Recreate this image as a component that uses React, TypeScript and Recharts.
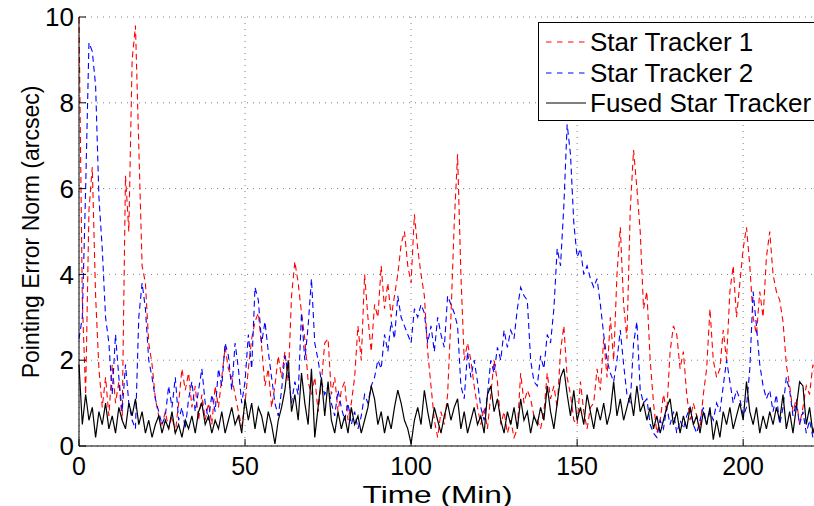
import React from 'react';
import { LineChart, Line, XAxis, YAxis, CartesianGrid } from 'recharts';

// Samples are one minute apart, starting at t = 0 min
const st1 = [
  10, 3.4, 1.2, 5.5, 6.5, 3.5, 1.8, 0.9, 1.6, 0.7,
  1.9, 1.0, 1.5, 0.6, 6.3, 5.0, 9.0, 9.8, 7.0, 4.2,
  3.8, 2.4, 1.9, 1.1, 0.7, 0.5, 0.8, 0.4, 0.7, 0.3,
  1.0, 1.8, 1.3, 1.7, 0.9, 1.4, 0.6, 1.2, 0.6, 1.0,
  0.5, 1.4, 0.9, 1.6, 2.3, 1.8, 1.6, 1.2, 0.8, 0.45,
  1.0, 1.8, 2.5, 2.9, 3.1, 2.3, 1.4, 1.8, 0.9, 1.4,
  2.1, 1.6, 2.2, 1.5, 3.5, 4.3, 3.8, 3.1, 2.5, 1.5,
  1.2, 1.6, 0.8, 1.5, 2.4, 2.5, 1.2, 1.6, 0.8, 1.3,
  1.5, 0.6, 1.0, 1.6, 2.8, 2.0, 4.0, 3.0, 2.2, 3.3,
  3.0, 4.2, 3.2, 3.8, 3.0, 3.5, 4.0, 4.7, 5.0, 4.2,
  3.8, 5.4, 4.6, 4.0, 3.5, 2.2, 1.4, 0.6, 0.2, 0.8,
  0.5, 1.2, 3.0, 5.2, 6.8, 4.0, 2.0, 2.4, 2.0, 1.4,
  0.9, 0.5, 0.9, 0.4, 1.2, 2.0, 1.5, 0.5, 0.8, 0.3,
  0.6, 0.2, 0.4, 1.7, 1.0, 1.3, 1.1, 0.7, 0.6, 0.4,
  0.8, 1.7, 1.1, 1.4, 0.9, 2.2, 2.8, 1.6, 1.2, 0.6,
  0.5, 1.5, 0.8, 0.4, 0.9, 1.0, 1.8, 1.3, 2.5, 1.6,
  3.0, 2.0, 4.0, 5.1, 3.3, 2.5, 5.5, 6.9, 6.0, 5.0,
  3.2, 3.6, 2.0, 1.0, 0.3, 0.6, 1.2, 0.8, 2.2, 2.8,
  2.6, 1.8, 2.2, 1.2, 0.6, 1.0, 0.7, 0.4, 1.2, 1.8,
  3.2, 2.0, 1.6, 1.8, 2.7, 2.0, 3.6, 4.2, 3.0, 3.8,
  4.6, 5.1, 4.2, 3.0, 2.6, 3.6, 3.0, 4.4, 5.0, 4.0,
  3.6, 3.4, 2.9, 1.9, 1.4, 0.8, 1.1, 0.5, 0.9, 1.4,
  1.2, 1.9, 1.5,
];

const st2 = [
  2.5, 3.0, 6.0, 9.4, 9.2, 8.4, 5.8, 4.6, 3.0, 2.4,
  1.2, 2.6, 1.6, 0.8, 1.9, 1.0, 0.6, 0.4, 3.0, 3.8,
  3.2, 2.0, 1.6, 1.1, 0.8, 0.5, 0.7, 1.4, 0.9, 1.6,
  0.6, 0.9, 0.4, 1.1, 1.5, 0.8, 1.3, 1.8, 1.0, 0.6,
  1.2, 0.8, 1.8, 1.4, 2.4, 2.1, 1.3, 2.4, 1.8, 1.0,
  1.5, 2.6, 1.8, 3.7, 3.4, 2.4, 2.9, 2.2, 1.6, 1.0,
  0.7, 1.3, 2.1, 1.7, 1.0, 1.5, 1.2, 3.1, 2.0, 2.8,
  3.9, 2.4, 2.0, 1.5, 1.2, 1.4, 1.0, 0.7, 1.3, 0.9,
  0.6, 1.0, 0.5, 0.8, 0.4, 0.7, 1.2, 1.0, 1.4, 1.6,
  2.0, 1.8, 2.6, 2.2, 2.9, 2.5, 3.5, 3.0, 2.8, 2.6,
  2.4, 3.2, 3.0, 3.3, 3.1, 2.4, 2.8, 2.2, 3.0, 2.6,
  2.3, 3.5, 3.3, 3.1, 2.8, 1.4, 1.1, 2.2, 1.6, 2.0,
  1.5, 0.9, 0.6, 1.2, 2.0, 1.7, 2.3, 2.0, 2.7, 2.3,
  2.7, 2.5, 3.2, 3.7, 3.5, 3.4, 2.0, 1.5, 1.4, 2.1,
  1.8, 2.6, 2.4, 3.2, 4.6, 4.2, 5.6, 7.5, 6.8, 5.2,
  4.4, 4.6, 4.0, 4.2, 3.9, 3.7, 3.9, 3.3, 2.6, 2.0,
  1.7, 1.5, 2.0, 2.7, 1.9, 1.2, 1.0, 2.4, 2.9, 1.3,
  1.0, 1.1, 0.5, 0.3, 0.2, 0.6, 0.4, 0.9, 0.5, 0.8,
  0.3, 0.6, 0.4, 0.7, 0.9, 0.5, 0.3, 0.6, 0.9, 0.5,
  0.8, 0.6, 1.0, 0.8, 1.4, 2.0, 1.5, 1.0, 1.3, 1.1,
  0.7, 0.9, 1.8, 3.6, 2.8, 1.9, 1.4, 1.1, 1.3, 0.8,
  1.2, 0.5, 0.9, 1.6, 1.3, 0.7, 1.0, 0.5, 0.8, 0.3,
  0.6, 0.2, 0.5,
];

const fused = [
  1.9, 0.5, 1.2, 0.6, 0.9, 0.2, 0.8, 0.5, 1.0, 0.4,
  0.7, 0.3, 0.9, 0.6, 0.4, 1.0, 0.7, 1.1, 0.5, 0.8,
  0.3, 0.6, 0.2, 0.5, 0.7, 0.3, 0.6, 0.4, 0.8, 0.3,
  0.5, 0.2, 0.6, 0.4, 0.7, 0.3, 0.8, 1.0, 0.5, 0.7,
  0.3, 0.6, 0.4, 0.8, 0.3, 0.6, 0.9, 0.5, 0.7, 0.3,
  1.1, 0.6, 1.0, 0.4, 0.9, 0.7, 0.3, 0.8, 0.5, 0.05,
  0.6, 0.9, 1.3, 2.0, 0.8, 1.2, 0.6, 1.7, 1.0, 0.5,
  1.8, 0.2, 0.9, 1.6, 0.7, 1.5, 0.6, 0.3, 0.8, 0.4,
  0.7, 0.3, 0.9, 0.5, 0.7, 0.3, 0.6, 0.9, 1.4, 1.1,
  0.5, 0.8, 0.3, 0.7, 0.4, 0.9, 1.3, 1.0, 0.6, 0.4,
  0.05, 0.6, 0.9, 0.5, 1.3, 0.8, 0.4, 0.9, 0.6, 0.3,
  0.7, 1.0, 0.6, 0.9, 1.1, 0.4, 0.8, 0.3, 0.6, 0.9,
  0.5, 0.7, 0.3, 1.2, 1.4, 0.8, 1.1, 0.6, 0.3, 0.8,
  0.5, 0.9, 0.4, 1.1, 0.6, 0.8, 0.3, 0.7, 0.5, 0.9,
  0.6, 1.4, 0.8, 0.4, 1.0, 1.6, 1.8, 1.2, 0.7, 1.3,
  0.6, 0.9, 0.5, 1.2, 0.8, 0.4, 0.9, 0.6, 1.0, 0.5,
  0.8, 1.5, 0.7, 1.1, 0.6, 0.9, 1.2, 0.7, 1.4, 0.8,
  1.0, 0.6, 0.9, 0.4, 0.7, 0.3, 0.6, 0.9, 1.1, 0.5,
  0.8, 0.3, 0.7, 0.4, 0.9, 0.5, 0.7, 0.3, 0.8, 0.5,
  0.9, 0.15, 0.6, 0.2, 0.8, 0.5, 0.9, 0.4, 0.7, 1.0,
  0.6, 1.5, 0.8, 0.5, 0.9, 0.3, 0.7, 0.4, 0.8, 0.5,
  0.9, 0.6, 1.2, 0.4, 0.8, 0.3, 0.9, 1.5, 1.4, 0.5,
  0.9, 0.3, 0.6,
];

const xTicks = [0, 50, 100, 150, 200];
const yTicks = [0, 2, 4, 6, 8, 10];
const seriesNames = ['Star Tracker 1', 'Star Tracker 2', 'Fused Star Tracker'];
const seriesColors = ['#ff0000', '#0000ff', '#000000'];
const xLabel = 'Time (Min)';
const yLabel = 'Pointing Error Norm (arcsec)';

const data = st1.map((v, i) => ({ t: i, st1: v, st2: st2[i], fused: fused[i] }));

const FONT = '"Liberation Sans", Arial, Helvetica, sans-serif';
const DASH = '6 4';

function XLabel() {
  return (
    <text
      x={437.5}
      y={502.5}
      textAnchor="middle"
      fontFamily={FONT}
      fontSize={24.5}
      textLength={150}
      lengthAdjust="spacingAndGlyphs"
      fill="#000"
    >
      {xLabel}
    </text>
  );
}

function YLabel() {
  return (
    <text
      x={31}
      y={232}
      textAnchor="middle"
      dominantBaseline="central"
      transform="rotate(-90, 31, 232)"
      fontFamily={FONT}
      fontSize={23}
      fill="#000"
    >
      {yLabel}
    </text>
  );
}

function LegendBox() {
  return (
    <div
      style={{
        position: 'absolute',
        left: 538,
        top: 22,
        width: 300,
        height: 99,
        border: '1px solid #000',
        background: '#fff',
        boxSizing: 'border-box',
        paddingTop: 4,
        fontFamily: FONT,
        fontSize: 26,
        color: '#000',
      }}
    >
      {seriesNames.map((name, i) => (
        <div key={name} style={{ display: 'flex', alignItems: 'center', height: 30.5 }}>
          <svg width={50} height={10} style={{ flex: 'none' }}>
            <line
              x1={7}
              y1={5}
              x2={47}
              y2={5}
              stroke={seriesColors[i]}
              strokeWidth={1}
              strokeDasharray={i < 2 ? '5.5 5.5' : undefined}
            />
          </svg>
          <span style={{ whiteSpace: 'nowrap', lineHeight: '30px', marginLeft: 1 }}>{name}</span>
        </div>
      ))}
    </div>
  );
}

export default function App() {
  return (
    <div
      style={{
        position: 'absolute',
        left: 0,
        top: 0,
        width: 814,
        height: 506,
        overflow: 'hidden',
        background: '#fff',
      }}
    >
      <LineChart width={900} height={506} data={data} margin={{ top: 17, right: 24, bottom: 0, left: 0 }}>
        <CartesianGrid xAxisId="b" yAxisId="l" stroke="#808080" strokeDasharray="1 5" />
        <XAxis
          xAxisId="b"
          dataKey="t"
          type="number"
          domain={[0, 240]}
          ticks={xTicks}
          interval={0}
          height={60}
          tickSize={-7}
          tickMargin={18}
          axisLine={{ stroke: '#000' }}
          tickLine={{ stroke: '#000' }}
          tick={{ fill: '#000', fontSize: 25, fontFamily: FONT }}
          label={<XLabel />}
        />
        <XAxis
          xAxisId="t"
          orientation="top"
          dataKey="t"
          type="number"
          domain={[0, 240]}
          ticks={xTicks}
          interval={0}
          height={0}
          tickSize={-7}
          tick={false}
          axisLine={{ stroke: '#000' }}
          tickLine={{ stroke: '#000' }}
        />
        <YAxis
          yAxisId="l"
          type="number"
          domain={[0, 10]}
          ticks={yTicks}
          interval={0}
          width={79}
          tickSize={-7}
          tickMargin={12}
          axisLine={{ stroke: '#000' }}
          tickLine={{ stroke: '#000' }}
          tick={{ fill: '#000', fontSize: 26, fontFamily: FONT }}
          label={<YLabel />}
        />
        <Line xAxisId="b" yAxisId="l" type="linear" dataKey="st1" stroke={seriesColors[0]} strokeWidth={1.1} strokeDasharray={DASH} dot={false} isAnimationActive={false} />
        <Line xAxisId="b" yAxisId="l" type="linear" dataKey="st2" stroke={seriesColors[1]} strokeWidth={1.1} strokeDasharray={DASH} dot={false} isAnimationActive={false} />
        <Line xAxisId="b" yAxisId="l" type="linear" dataKey="fused" stroke={seriesColors[2]} strokeWidth={1.2} dot={false} isAnimationActive={false} />
      </LineChart>
      <LegendBox />
    </div>
  );
}
